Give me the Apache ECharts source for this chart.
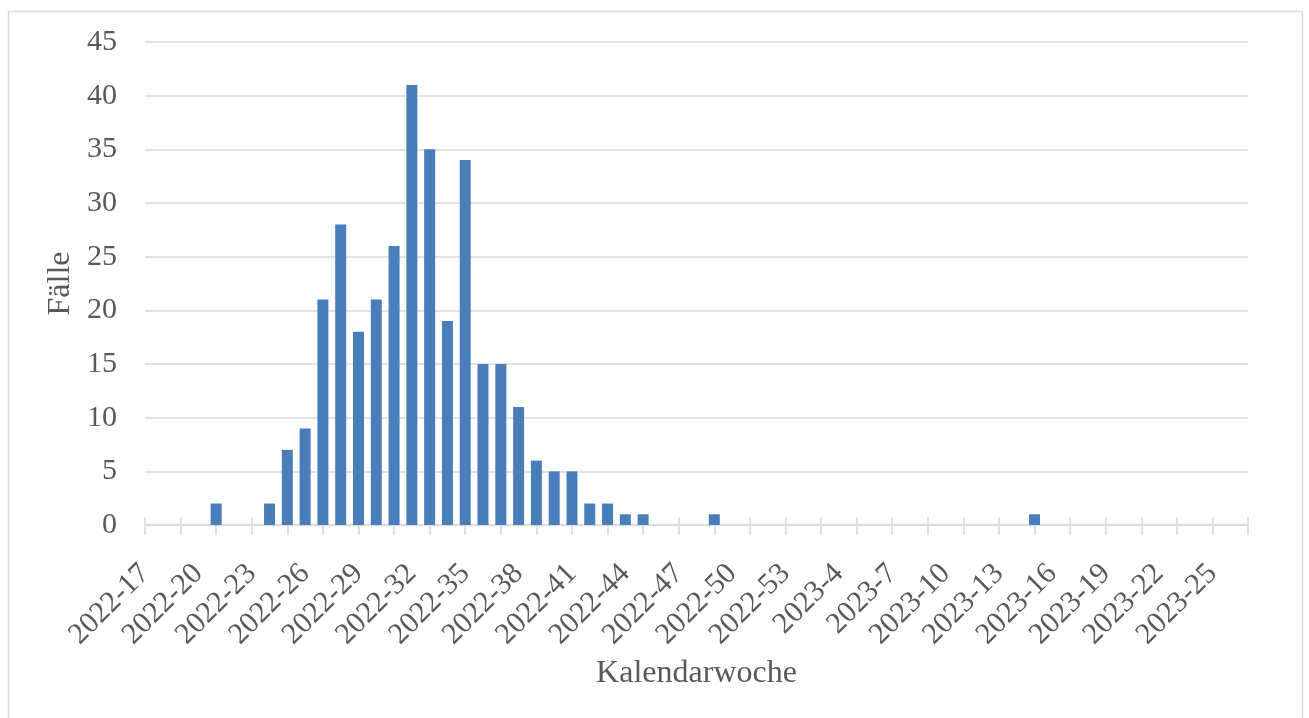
<!DOCTYPE html>
<html>
<head>
<meta charset="utf-8">
<title>Fälle je Kalendarwoche</title>
<script src="https://cdn.jsdelivr.net/npm/echarts@6/dist/echarts.min.js"></script>
<style>
  html, body { margin: 0; padding: 0; background: #ffffff; }
  #chart { width: 1309px; height: 718px; }
</style>
</head>
<body>
<div id="chart"></div>
<script>
// Calendar weeks (year-week)
const weeks = [
  '2022-17','2022-18','2022-19','2022-20','2022-21','2022-22','2022-23','2022-24','2022-25','2022-26',
  '2022-27','2022-28','2022-29','2022-30','2022-31','2022-32','2022-33','2022-34','2022-35','2022-36',
  '2022-37','2022-38','2022-39','2022-40','2022-41','2022-42','2022-43','2022-44','2022-45','2022-46',
  '2022-47','2022-48','2022-49','2022-50','2022-51','2022-52','2022-53','2023-2','2023-3','2023-4',
  '2023-5','2023-6','2023-7','2023-8','2023-9','2023-10','2023-11','2023-12','2023-13','2023-14',
  '2023-15','2023-16','2023-17','2023-18','2023-19','2023-20','2023-21','2023-22','2023-23','2023-24',
  '2023-25','2023-26','2023-27'
];

// Cases per week
const cases = [
  0, 0, 0, 0, 2, 0, 0, 2, 7, 9,
  21, 28, 18, 21, 26, 41, 35, 19, 34, 15,
  15, 11, 6, 5, 5, 2, 2, 1, 1, 0,
  0, 0, 1, 0, 0, 0, 0, 0, 0, 0,
  0, 0, 0, 0, 0, 0, 0, 0, 0, 0,
  1, 0, 0, 0, 0, 0, 0, 0, 0, 0,
  0, 0, 0
];

const yTicks = { min: 0, max: 45, step: 5 };

const textColor = '#595959';
const lineColor = '#d9d9d9';
const serif = '"Liberation Serif", "DejaVu Serif", serif';

const chart = echarts.init(document.getElementById('chart'), null, { renderer: 'canvas' });

chart.setOption({
  animation: false,
  backgroundColor: '#ffffff',
  graphic: [{
    type: 'rect',
    shape: { x: 8.5, y: 11.5, width: 1294, height: 720 },
    style: { fill: 'none', stroke: lineColor, lineWidth: 1.5 },
    silent: true,
    z: -1
  }],
  grid: { left: 145, right: 61, top: 42, bottom: 193, containLabel: false },
  xAxis: [{
    type: 'category',
    data: weeks,
    boundaryGap: false,
    name: 'Kalendarwoche',
    nameLocation: 'middle',
    nameGap: 132,
    nameTextStyle: { fontFamily: serif, fontSize: 32, color: textColor },
    axisLine: { show: true, lineStyle: { color: lineColor, width: 1.5 } },
    axisTick: { show: true, interval: 1, length: 10, lineStyle: { color: lineColor, width: 1.5 } },
    axisLabel: {
      interval: 2,
      rotate: 45,
      margin: 44,
      fontFamily: serif,
      fontSize: 30,
      color: textColor
    },
    splitLine: { show: false }
  }, {
    // inner half of the crossing tick marks
    type: 'category',
    data: weeks,
    boundaryGap: false,
    position: 'bottom',
    axisLine: { show: false },
    axisTick: { show: true, inside: true, interval: 1, length: 8, lineStyle: { color: lineColor, width: 1.5 } },
    axisLabel: { show: false },
    splitLine: { show: false }
  }],
  yAxis: {
    type: 'value',
    min: yTicks.min,
    max: yTicks.max,
    interval: yTicks.step,
    name: 'Fälle',
    nameLocation: 'middle',
    nameGap: 68,
    nameTextStyle: { fontFamily: serif, fontSize: 32, color: textColor },
    axisLine: { show: false },
    axisTick: { show: false },
    axisLabel: { margin: 28, fontFamily: serif, fontSize: 30, color: textColor },
    splitLine: { show: true, lineStyle: { color: lineColor, width: 1.5 } }
  },
  series: [{
    type: 'bar',
    data: cases,
    xAxisIndex: 0,
    barWidth: 11,
    itemStyle: { color: '#4a7ebb' },
    z: 1
  }]
});
</script>
</body>
</html>
